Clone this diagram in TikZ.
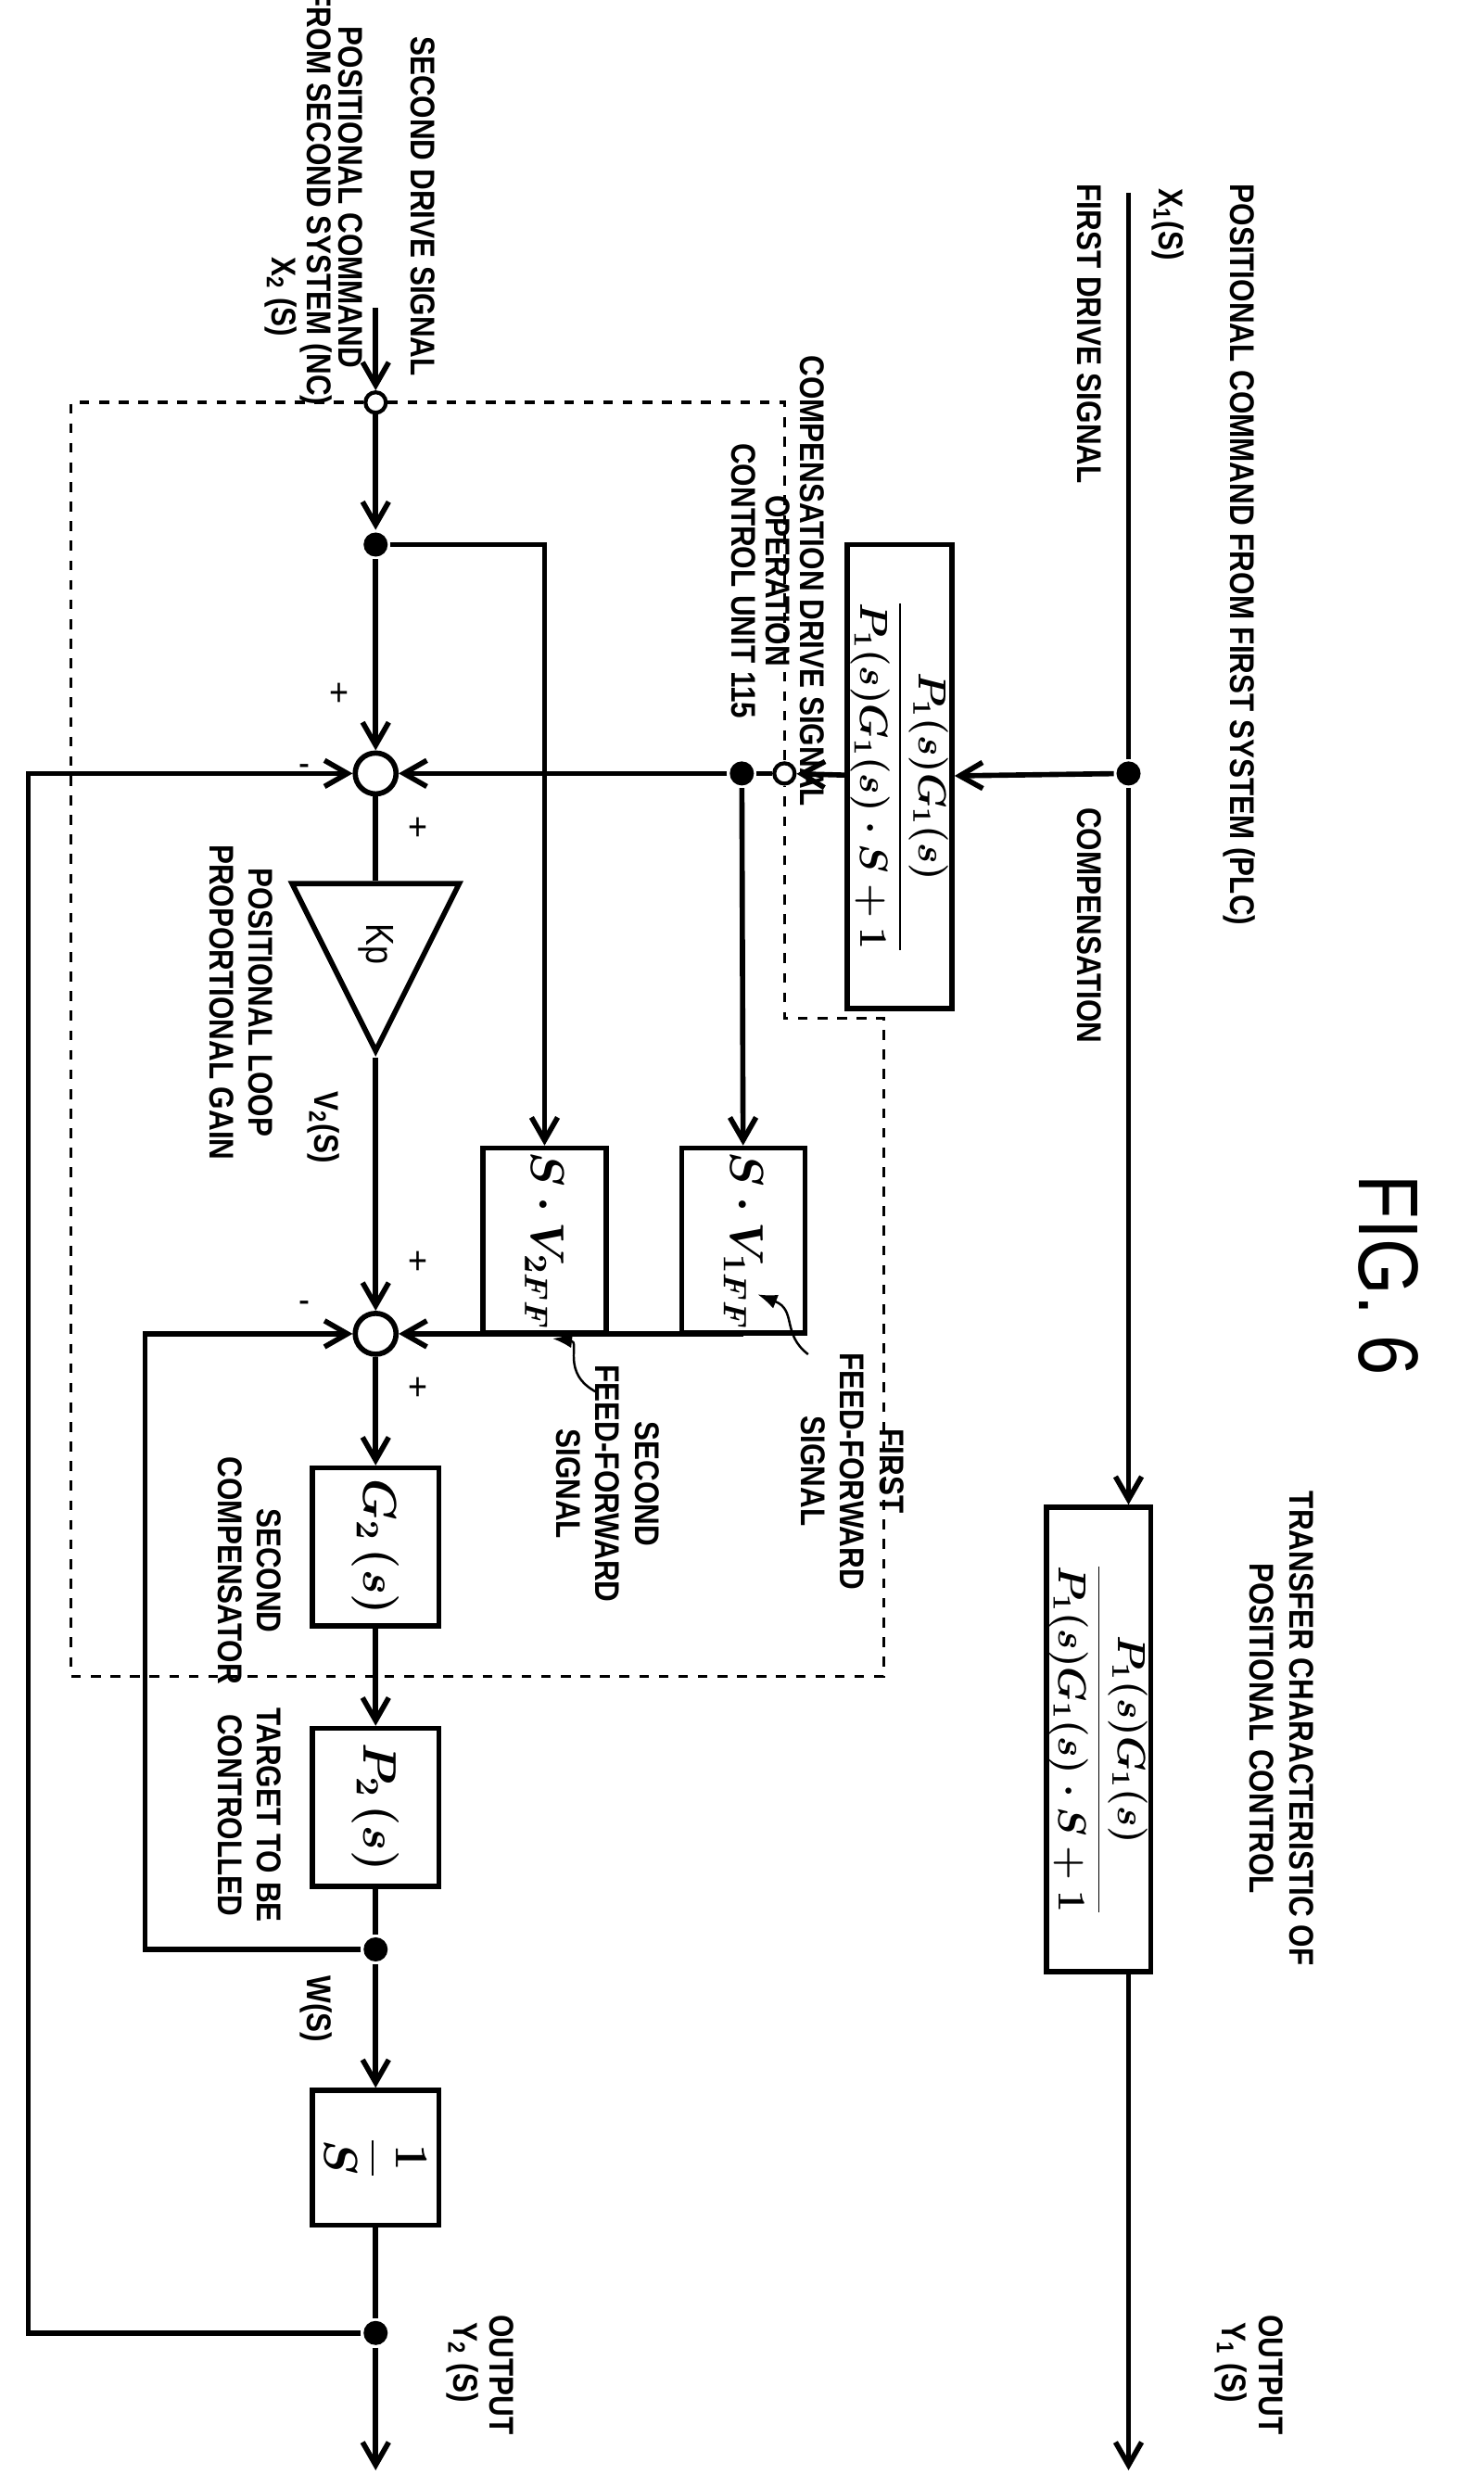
\documentclass[tikz,border=0pt]{standalone}
\usepackage{fontspec}
\usepackage{bm}
\setmainfont{Liberation Sans}[FakeStretch=0.85]
\usetikzlibrary{arrows.meta,calc,shapes.geometric}

\begin{document}
\begin{tikzpicture}[x=0.017cm,y=-0.017cm,line width=1.6pt,
  sig/.style={-{Straight Barb[length=7pt,width=8pt,line width=1.6pt]}},
  txt/.style={rotate=-90,inner sep=0,font=\fontsize{10.5}{12}\selectfont\bfseries,anchor=west},
  blk/.style={draw,rotate=-90,inner sep=1pt,font=\Large},
  sum/.style={draw,circle,fill=white,minimum size=0.44cm,inner sep=0},
  port/.style={draw,circle,fill=white,minimum size=0.22cm,inner sep=0,line width=1.2pt},
  dot/.style={circle,fill,minimum size=0.26cm,inner sep=0},
  pm/.style={inner sep=0,font=\large}]
\useasboundingbox (0,0) rectangle (940,1568);

% first system
\node[dot] (d0) at (715,490) {};
\coordinate (in1) at (715,122);
\coordinate (out1) at (715,1565);
\node[blk,font=\large,minimum width=5cm,minimum height=0.92cm] (cmp) at (570,492)
  {$\displaystyle\bm{\frac{P_1(s)G_1(s)}{P_1(s)G_1(s)\cdot S+1}}$};
\node[blk,font=\large,minimum width=5cm,minimum height=0.92cm] (tf) at (696,1102)
  {$\displaystyle\bm{\frac{P_1(s)G_1(s)}{P_1(s)G_1(s)\cdot S+1}}$};

% second system
\coordinate (in2) at (238,195);
\node[port] (p1) at (238,255) {};
\node[port] (p2) at (497,490) {};
\node[dot] (d1) at (238,345) {};
\node[dot] (d2) at (470,490) {};
\node[sum] (s1) at (238,490) {};
\node[draw,isosceles triangle,isosceles triangle stretches,rotate=-90,anchor=apex,
  minimum width=1.8cm,minimum height=1.8cm,inner sep=0] (kp) at (238,670) {};
\node[rotate=-90,font=\fontsize{12}{14}\selectfont] at (238,598) {Kp};
\node[blk,minimum width=1.41cm,minimum height=1.33cm] (v1) at (471,786) {$\bm{S\cdot V_{1FF}}$};
\node[blk,minimum width=1.41cm,minimum height=1.33cm] (v2) at (345,786) {$\bm{S\cdot V_{2FF}}$};
\node[sum] (s2) at (238,845) {};
\node[blk,minimum width=1.7cm,minimum height=1.36cm] (g2) at (238,980) {$\bm{G_2\,(s)}$};
\node[blk,minimum width=1.7cm,minimum height=1.36cm] (p2s) at (238,1145) {$\bm{P_2\,(s)}$};
\node[dot] (d3) at (238,1235) {};
\node[blk,minimum width=1.45cm,minimum height=1.36cm] (int) at (238,1367) {$\displaystyle\bm{\frac{1}{S}}$};
\node[dot] (d4) at (238,1478) {};
\coordinate (out2) at (238,1565);
\coordinate (fb1) at (18,1478);
\coordinate (fb2) at (92,1235);

% dashed frame of unit 115
\draw[dashed,line width=1pt] (p1) -- (45,255) |- (560,1062) |- (497,645) -- (p2);
\draw[dashed,line width=1pt] (p1) -- (497,255) -- (p2);

% connectors
\draw[sig] (in1) -- (d0) -- (d0 |- tf.west);
\draw[sig] (d0) -- (cmp);
\draw[sig] (d0 |- tf.east) -- (out1);
\draw[sig] (cmp) -- (p2);
\draw (p2) -- (d2);
\draw[sig] (d2) -- (s1);
\draw[sig] (d2) -- (v1);
\draw[sig] (in2) -- (p1);
\draw[sig] (p1) -- (d1);
\draw[sig] (d1) -- (s1);
\draw[sig] (d1) -| (v2);
\draw (s1) -- (kp);
\draw[sig] (kp) -- (s2);
\draw[sig] (v1) |- (s2);
\draw (v2) -- (v2 |- s2);
\draw[sig] (s2) -- (g2);
\draw[sig] (g2) -- (p2s);
\draw (p2s) -- (d3);
\draw[sig] (d3) -- (int);
\draw (int) -- (d4);
\draw[sig] (d4) -- (out2);
\draw[sig] (d4) -- (fb1) |- (s1);
\draw[sig] (d3) -- (fb2) |- (s2);

% signs
\node[pm] at (215,440) {+};
\node[pm] at (193,488) {-};
\node[pm] at (265,525) {+};
\node[pm] at (265,800) {+};
\node[pm] at (193,828) {-};
\node[pm] at (265,880) {+};

% texts
\node[txt] at (785,115) {POSITIONAL COMMAND FROM FIRST SYSTEM (PLC)};
\node[txt] at (740,118) {X\textsubscript{1}(S)};
\node[txt] at (690,115) {FIRST DRIVE SIGNAL};
\node[txt] at (690,510) {COMPENSATION};
\node[txt,anchor=center,font=\fontsize{26}{30}\selectfont] at (880,808) {FIG. 6};
\node[txt,anchor=center,align=center] at (812,1095) {TRANSFER CHARACTERISTIC OF\\POSITIONAL CONTROL};
\node[txt] at (805,1465) {OUTPUT};
\node[txt] at (780,1470) {Y\textsubscript{1} (S)};
\node[txt,anchor=east] at (268,240) {SECOND DRIVE SIGNAL};
\node[txt,anchor=center] at (222,125) {POSITIONAL COMMAND};
\node[txt,anchor=center] at (200,125) {FROM SECOND SYSTEM (NC)};
\node[txt,anchor=center] at (178,188) {X\textsubscript{2} (S)};
\node[txt,anchor=center,align=center,font=\fontsize{10.5}{10.5}\selectfont\bfseries] at (493,368) {COMPENSATION DRIVE SIGNAL\\OPERATION\\CONTROL UNIT 115};
\node[txt,anchor=center,align=center] at (153,635) {POSITIONAL LOOP\\PROPORTIONAL GAIN};
\node[txt] at (205,690) {V\textsubscript{2}(S)};
\node[txt,anchor=center,align=center] at (540,932) {FIRST\\FEED-FORWARD\\SIGNAL};
\node[txt,anchor=center,align=center] at (385,940) {SECOND\\FEED-FORWARD\\SIGNAL};
\node[txt,anchor=center,align=center] at (158,995) {SECOND\\COMPENSATOR};
\node[txt,anchor=center,align=center] at (158,1150) {TARGET TO BE\\CONTROLLED};
\node[txt] at (200,1250) {W(S)};
\node[txt] at (318,1465) {OUTPUT};
\node[txt] at (293,1470) {Y\textsubscript{2} (S)};

% pointers
\coordinate (t1) at (512,858);
\coordinate (h1) at (480,820);
\coordinate (t2) at (378,882);
\coordinate (h2) at (350,848);
\draw[line width=0.7pt,-{Latex[length=6pt]}] (t1) .. controls (495,845) and (505,830) .. (h1);
\draw[line width=0.7pt,-{Latex[length=6pt]}] (t2) .. controls (355,870) and (368,850) .. (h2);
\end{tikzpicture}
\end{document}
